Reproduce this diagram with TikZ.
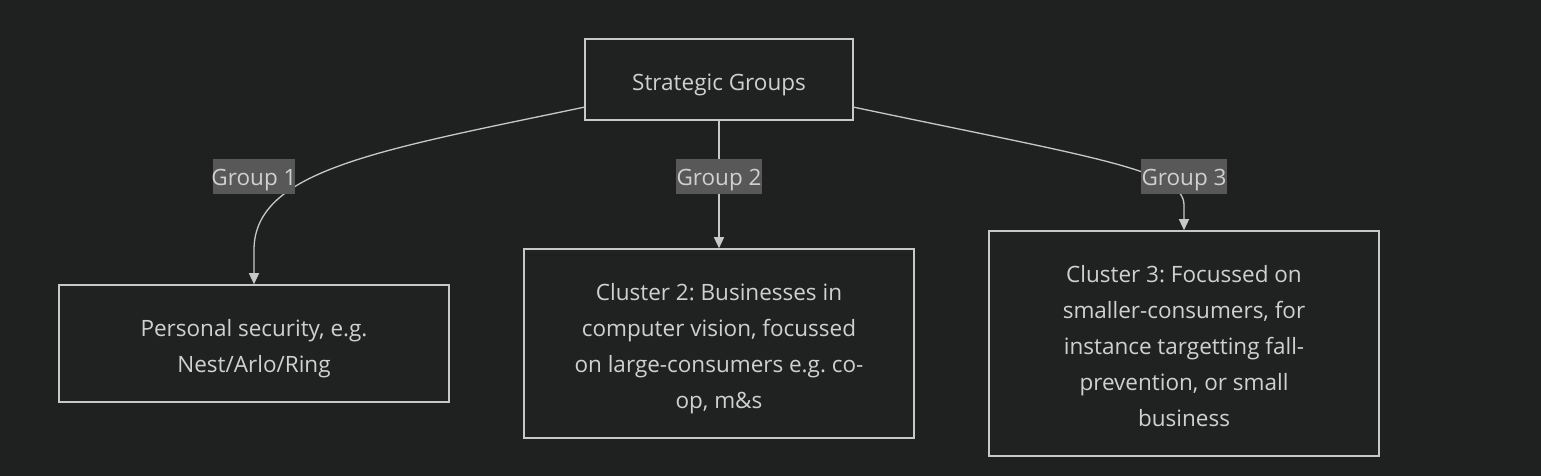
\documentclass[tikz,border=0pt]{standalone}
\usepackage{fontspec}
\setmainfont{Open Sans}
\frenchspacing
\usetikzlibrary{arrows.meta}
\definecolor{bg}{HTML}{1F2020}
\definecolor{nodefill}{HTML}{202221}
\definecolor{edge}{HTML}{C8C8C8}
\definecolor{txt}{HTML}{D0D0D0}
\definecolor{lblfill}{HTML}{585858}
\tikzset{
  x=1pt,y=-1pt,
  box/.style={draw=edge, line width=1.6pt, fill=nodefill, inner sep=0pt},
  boxtext/.style={text=txt, align=center, font=\fontsize{22.5}{36}\selectfont\frenchspacing, inner sep=0pt},
  lbl/.style={fill=lblfill, inner sep=0pt, minimum height=35pt},
  lbltext/.style={text=txt, font=\fontsize{22.5}{27}\selectfont, inner sep=0pt},
  conn/.style={draw=edge, line width=1.3pt},
  arr/.style={conn, -{Triangle[length=11pt,width=10pt]}},
}
\begin{document}
\begin{tikzpicture}
\fill[bg] (0,0) rectangle (1541,476);
\useasboundingbox (0,0) rectangle (1541,476);

\node[box, minimum width=268pt, minimum height=81pt] (sg) at (719,79.5) {};
\node[box, minimum width=390pt, minimum height=117pt] (c1) at (254,343.5) {};
\node[box, minimum width=390pt, minimum height=189pt] (c2) at (719,343.5) {};
\node[box, minimum width=390pt, minimum height=225pt] (c3) at (1184,343.5) {};

\node[boxtext] (sgt) at ([yshift=-5pt]sg.center) {Strategic Groups};
\node[boxtext] (c1t) at ([yshift=-5pt]c1.center) {Personal security, e.g.\\Nest/Arlo/Ring};
\node[boxtext] (c2t) at ([yshift=-5pt]c2.center)
  {Cluster 2: Businesses in\\computer vision, focussed\\on large-consumers e.g. co-\\op, m\&s};
\node[boxtext] (c3t) at ([yshift=-3pt]c3.center)
  {Cluster 3: Focussed on\\smaller-consumers, for\\instance targetting fall-\\prevention, or small\\business};

\coordinate (s1) at (585,107);
\coordinate (s3) at (853,107);

\draw[arr] (s1) .. controls (380,150) and (254,170) .. (254,250) -- (c1.north);
\draw[arr] (sg.south) -- (c2.north);
\draw[arr] (s3) .. controls (1090,157) and (1184,170) .. (1184,205) -- (c3.north);

\node[lbl, minimum width=82pt] (g1) at (254,176) {};
\node[lbl, minimum width=86pt] (g2) at (719,176) {};
\node[lbl, minimum width=86pt] (g3) at (1184,176) {};
\node[lbltext] (g1t) at ([yshift=-4pt]g1.center) {Group 1};
\node[lbltext] (g2t) at ([yshift=-4pt]g2.center) {Group 2};
\node[lbltext] (g3t) at ([yshift=-4pt]g3.center) {Group 3};
\end{tikzpicture}
\end{document}
